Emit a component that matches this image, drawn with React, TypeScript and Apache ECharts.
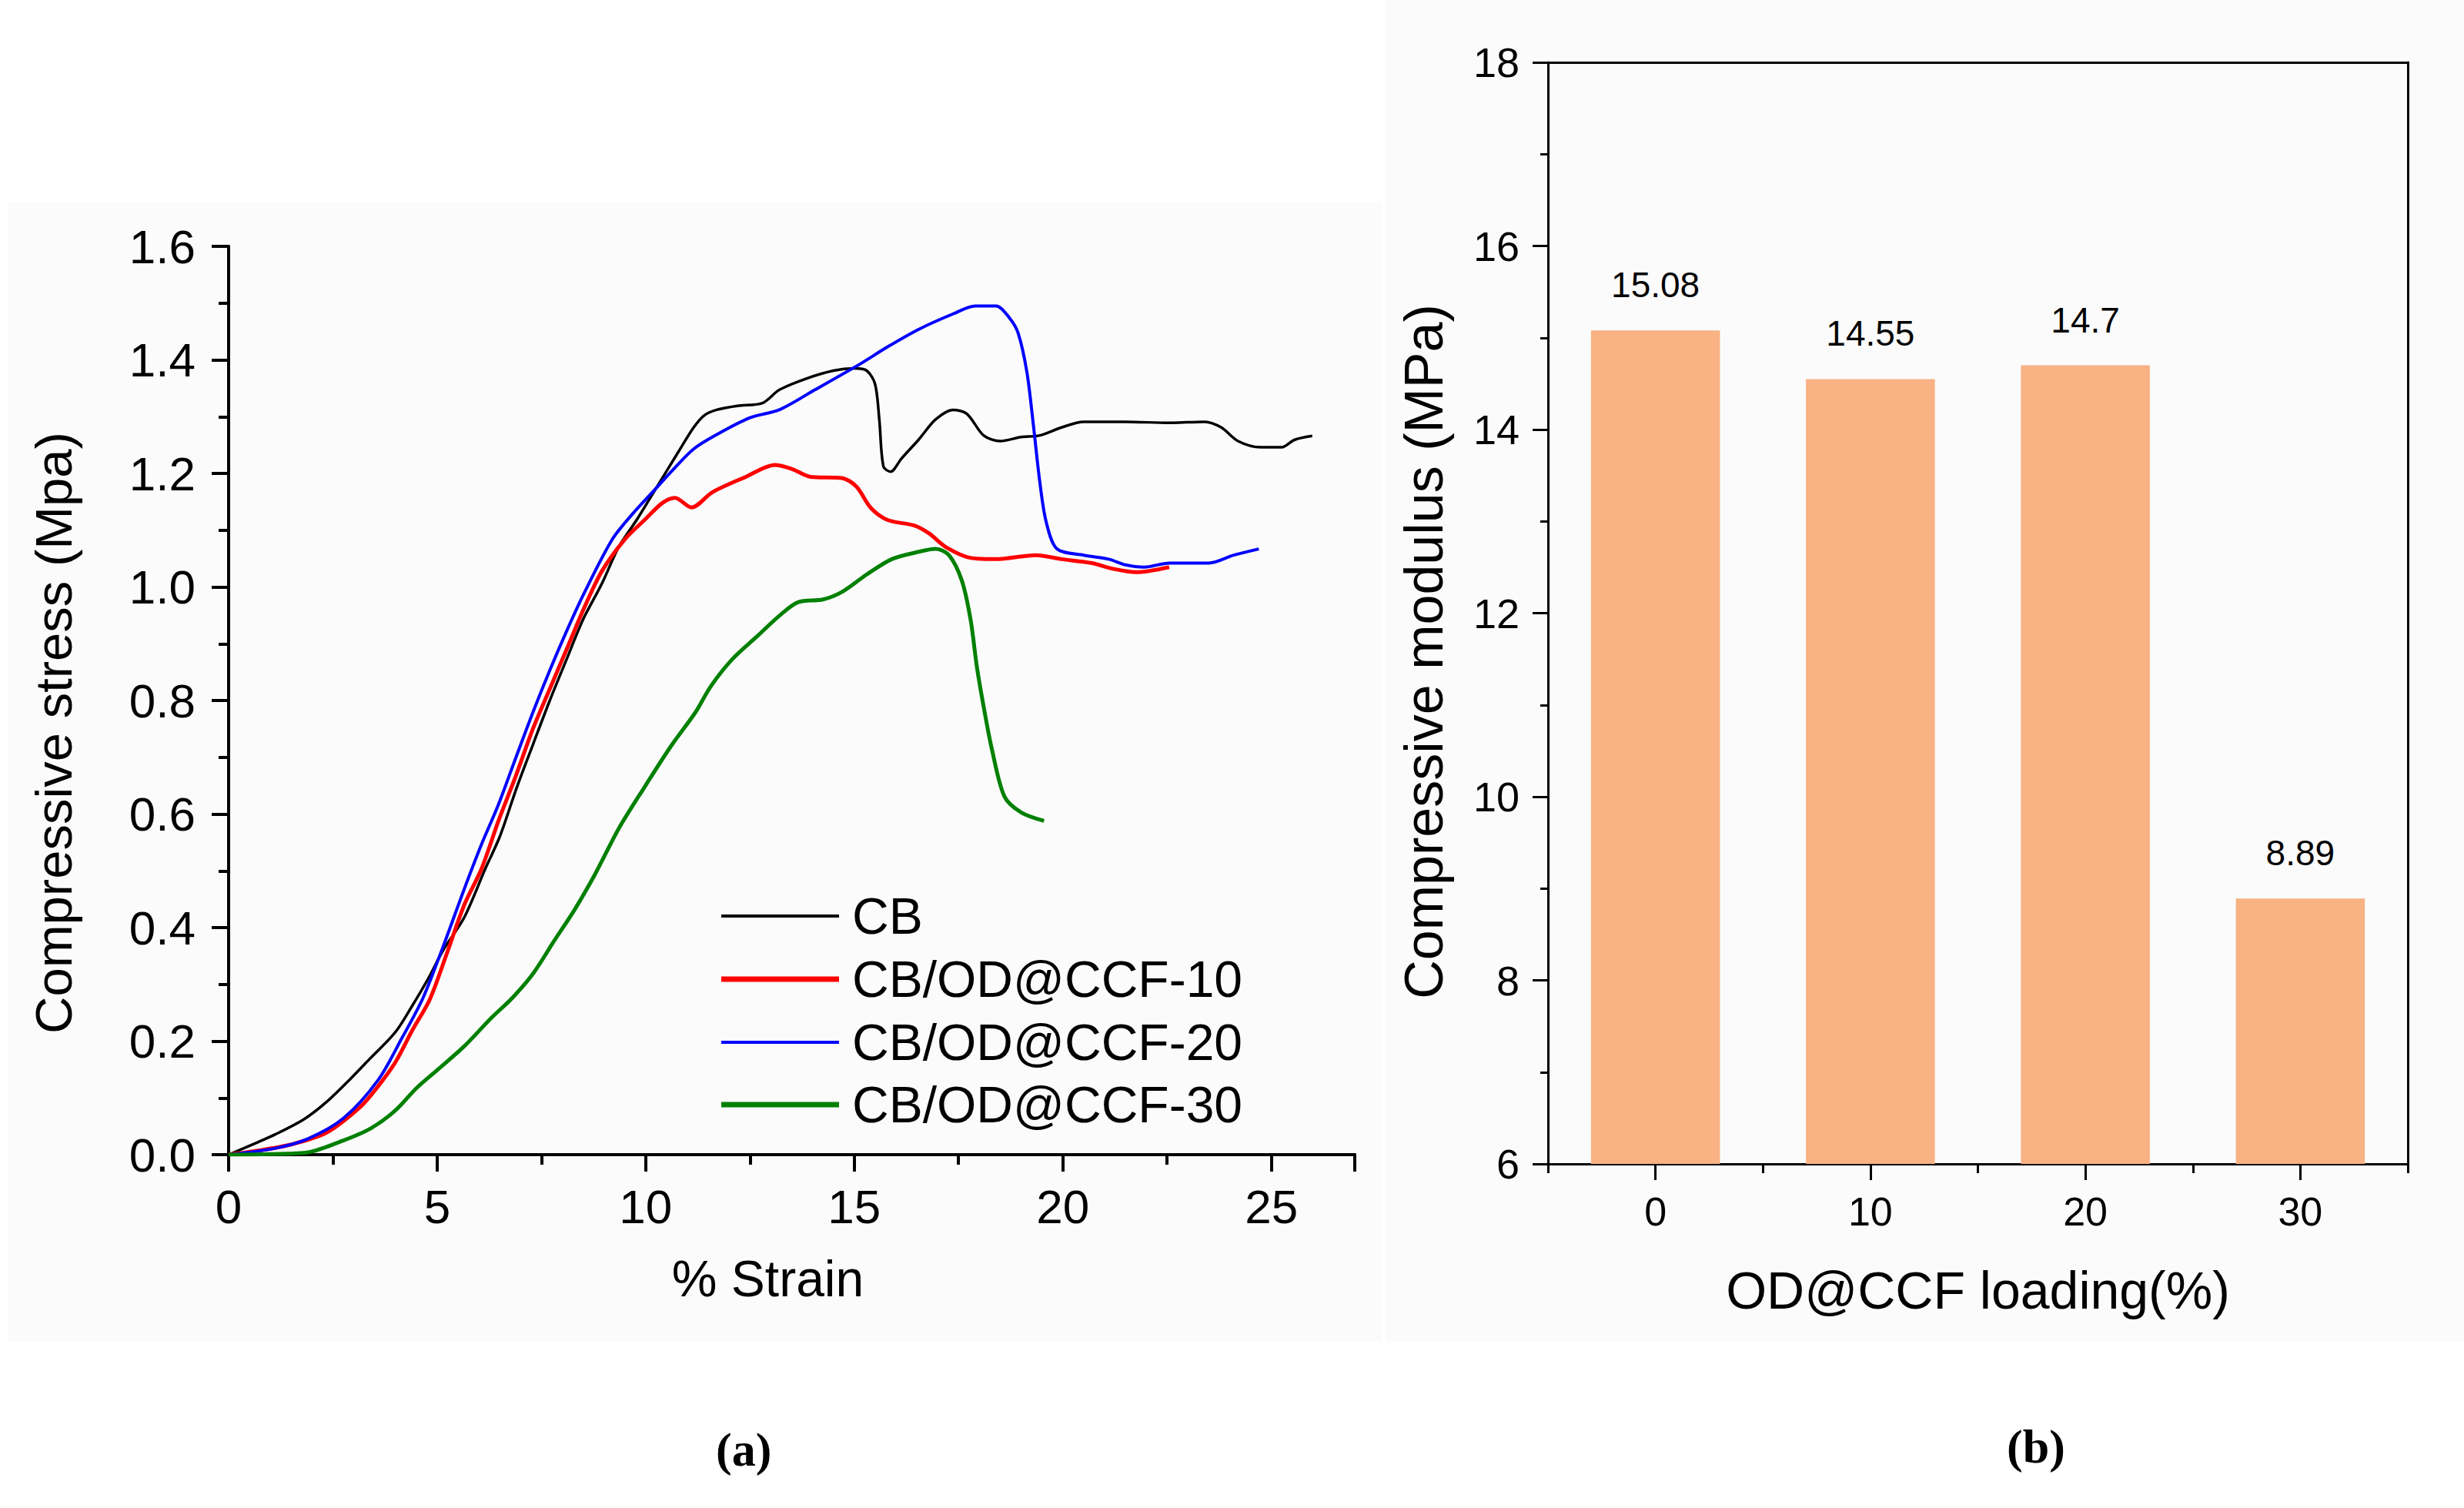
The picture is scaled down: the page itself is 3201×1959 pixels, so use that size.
import React, { useEffect, useRef } from 'react';
import * as echarts from 'echarts';

// (a) stress-strain curves: [% strain, stress MPa]
const cbCurve: [number, number][] = [
  [0, 0], [0.7, 0.022], [1.1, 0.035], [1.8, 0.062], [2.35, 0.093], [2.9, 0.132], [3.4, 0.17],
  [4.0, 0.216], [4.4, 0.262], [4.8, 0.312], [5.15, 0.361], [5.65, 0.418], [6.15, 0.503],
  [6.5, 0.56], [6.9, 0.645], [7.3, 0.723], [7.7, 0.8], [8.1, 0.872], [8.5, 0.943], [8.95, 1.006],
  [9.35, 1.07], [9.8, 1.12], [10.3, 1.18], [10.8, 1.24], [11.15, 1.281], [11.4, 1.302],
  [11.7, 1.312], [12.2, 1.319], [12.8, 1.324], [13.2, 1.347], [13.85, 1.367], [14.5, 1.381],
  [15.0, 1.385], [15.3, 1.381], [15.5, 1.357], [15.6, 1.295], [15.7, 1.212], [15.87, 1.203],
  [16.13, 1.226], [16.55, 1.26], [16.95, 1.295], [17.37, 1.312], [17.7, 1.305], [18.1, 1.267],
  [18.5, 1.257], [19.0, 1.264], [19.45, 1.267], [19.97, 1.281], [20.5, 1.291], [21.5, 1.291],
  [22.55, 1.289], [23.4, 1.291], [23.8, 1.281], [24.2, 1.257], [24.75, 1.246], [25.25, 1.246],
  [25.55, 1.259], [25.98, 1.266]
];

const ccf10Curve: [number, number][] = [
  [0, 0], [0.7, 0.007], [1.5, 0.018], [2.35, 0.039], [3.17, 0.085], [3.58, 0.12], [4.0, 0.163],
  [4.41, 0.22], [4.82, 0.273], [5.23, 0.354], [5.65, 0.44], [6.06, 0.503], [6.47, 0.588],
  [6.88, 0.666], [7.3, 0.751], [7.71, 0.822], [8.12, 0.893], [8.53, 0.964], [8.95, 1.028],
  [9.5, 1.084], [10.0, 1.12], [10.4, 1.148], [10.7, 1.157], [11.1, 1.14], [11.6, 1.167],
  [12.4, 1.194], [13.1, 1.215], [13.5, 1.208], [13.95, 1.194], [14.7, 1.192], [15.05, 1.177],
  [15.4, 1.139], [15.8, 1.118], [16.45, 1.108], [16.8, 1.094], [17.2, 1.07], [17.8, 1.051],
  [18.4, 1.049], [19.35, 1.056], [19.97, 1.049], [20.7, 1.042], [21.2, 1.032], [21.75, 1.026],
  [22.55, 1.035]
];

const ccf20Curve: [number, number][] = [
  [0, 0], [1.1, 0.011], [1.9, 0.028], [2.75, 0.064], [3.58, 0.131], [4.16, 0.206], [4.66, 0.276],
  [5.15, 0.368], [5.65, 0.468], [6.06, 0.546], [6.47, 0.617], [6.88, 0.698], [7.3, 0.78],
  [7.71, 0.855], [8.12, 0.925], [8.53, 0.99], [9.2, 1.084], [9.7, 1.13], [10.2, 1.17],
  [10.7, 1.21], [11.15, 1.243], [11.67, 1.267], [12.5, 1.298], [13.2, 1.312], [14.05, 1.347],
  [15.1, 1.391], [15.8, 1.423], [16.55, 1.454], [17.37, 1.481], [17.9, 1.495], [18.4, 1.495],
  [18.72, 1.474], [18.93, 1.447], [19.14, 1.378], [19.29, 1.288], [19.45, 1.184], [19.6, 1.115],
  [19.86, 1.067], [20.5, 1.056], [21.1, 1.049], [21.5, 1.039], [21.95, 1.035], [22.55, 1.042],
  [23.5, 1.042], [24.1, 1.056], [24.7, 1.067]
];

const ccf30Curve: [number, number][] = [
  [0, 0], [1.0, 0.001], [1.9, 0.004], [2.75, 0.025], [3.4, 0.046], [4.0, 0.078], [4.5, 0.117],
  [5.0, 0.149], [5.65, 0.191], [6.3, 0.241], [6.8, 0.276], [7.3, 0.319], [7.8, 0.376],
  [8.3, 0.432], [8.8, 0.496], [9.35, 0.574], [9.95, 0.645], [10.6, 0.719], [11.2, 0.78],
  [11.56, 0.825], [12.08, 0.873], [12.7, 0.915], [13.2, 0.949], [13.65, 0.973], [14.25, 0.978],
  [14.7, 0.991], [15.3, 1.022], [15.9, 1.049], [16.55, 1.062], [16.95, 1.067], [17.27, 1.056],
  [17.58, 1.011], [17.79, 0.942], [17.94, 0.859], [18.1, 0.79], [18.3, 0.714], [18.6, 0.631],
  [19.0, 0.603], [19.55, 0.588]
];

const seriesNames = ['CB', 'CB/OD@CCF-10', 'CB/OD@CCF-20', 'CB/OD@CCF-30'];

// (b) compressive modulus
const loadingCats = ['0', '10', '20', '30'];
const modulusValues = [15.08, 14.55, 14.7, 8.89];

const sans = 'Liberation Sans, Arial, sans-serif';

export default function App() {
  const chartRef = useRef<HTMLDivElement>(null);

  useEffect(() => {
    document.body.style.margin = '0';
    if (!chartRef.current) return;
    const chart = echarts.init(chartRef.current, null, { renderer: 'svg' });

    const curves = [cbCurve, ccf10Curve, ccf20Curve, ccf30Curve];
    const colors = ['#000000', '#ff0000', '#0000ff', '#008000'];
    const widths = [3.5, 5, 4, 5];
    const legendThick = [4, 7, 4, 7];
    const legendRows = [1190, 1272, 1354, 1435];

    const frameAxis = (gridIndex: number, position: string, extra: any) => ({
      gridIndex,
      position,
      axisLine: { show: true, lineStyle: { color: '#000', width: gridIndex === 0 ? 4 : 3 } },
      axisTick: { show: false },
      axisLabel: { show: false },
      splitLine: { show: false },
      ...extra
    });

    const option: any = {
      animation: false,
      backgroundColor: '#ffffff',
      textStyle: { fontFamily: sans, color: '#000' },
      graphic: [
        { type: 'rect', z: -10, silent: true, shape: { x: 10, y: 262, width: 1785, height: 1480 }, style: { fill: '#fbfbfb' } },
        { type: 'rect', z: -10, silent: true, shape: { x: 1800, y: 0, width: 1401, height: 1742 }, style: { fill: '#fbfbfb' } },
        {
          type: 'text', left: 930, top: 1852,
          style: { text: '(a)', font: 'bold 62px "Liberation Serif", serif', fill: '#000' }
        },
        {
          type: 'text', left: 2607, top: 1848,
          style: { text: '(b)', font: 'bold 62px "Liberation Serif", serif', fill: '#000' }
        }
      ],
      legend: seriesNames.map((name, i) => ({
        data: [name],
        left: 937,
        top: legendRows[i] - 33,
        padding: 0,
        icon: 'rect',
        itemWidth: 153,
        itemHeight: legendThick[i],
        selectedMode: false,
        textStyle: { fontFamily: sans, fontSize: 66, lineHeight: 66, color: '#000', padding: [0, 0, 0, 12] }
      })),
      grid: [
        { left: 297, top: 320, width: 1463, height: 1180 },
        { left: 2011, top: 81, width: 1117, height: 1431 }
      ],
      xAxis: [
        {
          type: 'value', gridIndex: 0, min: 0, max: 27, interval: 5,
          name: '% Strain', nameLocation: 'middle', nameGap: 128,
          nameTextStyle: { fontFamily: sans, fontSize: 66, color: '#000', padding: [0, 62, 0, 0] },
          axisLine: { show: true, lineStyle: { color: '#000', width: 4 } },
          axisTick: { show: true, length: 22, lineStyle: { color: '#000', width: 4 } },
          minorTick: { show: true, splitNumber: 2, length: 13, lineStyle: { color: '#000', width: 4 } },
          axisLabel: { fontFamily: sans, fontSize: 62, color: '#000', margin: 36, showMaxLabel: false },
          splitLine: { show: false }
        },
        frameAxis(0, 'top', { type: 'value', min: 0, max: 27 }),
        {
          type: 'category', gridIndex: 1, position: 'bottom', data: loadingCats, boundaryGap: true,
          name: 'OD@CCF loading(%)', nameLocation: 'middle', nameGap: 130,
          nameTextStyle: { fontFamily: sans, fontSize: 68, color: '#000' },
          axisLine: { show: true, lineStyle: { color: '#000', width: 3 } },
          axisTick: { show: true, alignWithLabel: true, length: 21, lineStyle: { color: '#000', width: 3 } },
          axisLabel: { fontFamily: sans, fontSize: 52, color: '#000', margin: 36 },
          splitLine: { show: false }
        },
        {
          type: 'category', gridIndex: 1, position: 'bottom', data: loadingCats, boundaryGap: true,
          axisLine: { show: false },
          axisTick: { show: true, length: 12, lineStyle: { color: '#000', width: 3 } },
          axisLabel: { show: false },
          splitLine: { show: false }
        },
        frameAxis(1, 'top', { type: 'category', data: loadingCats })
      ],
      yAxis: [
        {
          type: 'value', gridIndex: 0, min: 0, max: 1.6, interval: 0.2,
          name: 'Compressive stress (Mpa)', nameLocation: 'middle', nameGap: 194,
          nameTextStyle: { fontFamily: sans, fontSize: 67, color: '#000', padding: [0, 84, 0, 0] },
          axisLine: { show: true, lineStyle: { color: '#000', width: 4 } },
          axisTick: { show: true, length: 22, lineStyle: { color: '#000', width: 4 } },
          minorTick: { show: true, splitNumber: 2, length: 13, lineStyle: { color: '#000', width: 4 } },
          axisLabel: {
            fontFamily: sans, fontSize: 62, color: '#000', margin: 43,
            formatter: (v: number) => v.toFixed(1)
          },
          splitLine: { show: false }
        },
        frameAxis(0, 'right', { type: 'value', min: 0, max: 1.6 }),
        {
          type: 'value', gridIndex: 1, min: 6, max: 18, interval: 2,
          name: 'Compressive modulus (MPa)', nameLocation: 'middle', nameGap: 126,
          nameTextStyle: { fontFamily: sans, fontSize: 70, color: '#000', padding: [0, 100, 0, 0] },
          axisLine: { show: true, lineStyle: { color: '#000', width: 3 } },
          axisTick: { show: true, length: 20, lineStyle: { color: '#000', width: 3 } },
          minorTick: { show: true, splitNumber: 2, length: 10, lineStyle: { color: '#000', width: 3 } },
          axisLabel: { fontFamily: sans, fontSize: 54, color: '#000', margin: 37 },
          splitLine: { show: false }
        },
        frameAxis(1, 'right', { type: 'value', min: 6, max: 18 })
      ],
      series: [
        ...curves.map((data, i) => ({
          name: seriesNames[i],
          type: 'line',
          xAxisIndex: 0,
          yAxisIndex: 0,
          data,
          smooth: 0.3,
          showSymbol: false,
          symbol: 'none',
          color: colors[i],
          itemStyle: { color: colors[i] },
          lineStyle: { color: colors[i], width: widths[i] }
        })),
        {
          name: 'modulus',
          type: 'bar',
          xAxisIndex: 2,
          yAxisIndex: 2,
          data: modulusValues,
          barWidth: '60%',
          itemStyle: { color: '#f8b283' },
          label: {
            show: true, position: 'top', distance: 36,
            fontFamily: sans, fontSize: 46, color: '#000'
          }
        }
      ]
    };

    chart.setOption(option);
    return () => {
      chart.dispose();
    };
  }, []);

  return <div ref={chartRef} style={{ width: 3201, height: 1959 }} />;
}
